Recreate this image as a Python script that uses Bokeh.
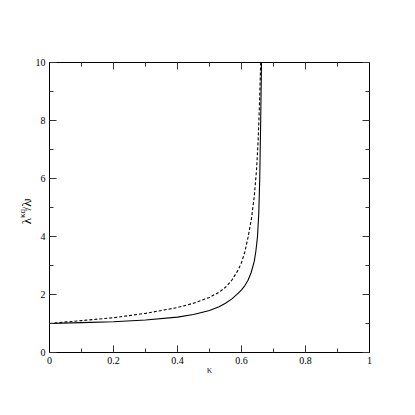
import math
from bokeh.plotting import figure
from bokeh.layouts import row
from bokeh.models import (Range1d, LinearAxis, FixedTicker, CustomJSTickFormatter)
from bokeh.core.properties import value
from bokeh.embed import file_html
from bokeh.resources import INLINE

# data
kappa_solid = [0.0, 0.1, 0.2, 0.3, 0.4, 0.45, 0.5, 0.53, 0.55, 0.57, 0.59, 0.6, 0.61, 0.62, 0.63,
               0.64, 0.645, 0.65, 0.654, 0.657, 0.66, 0.6625]
lam_solid = [1.0, 1.03, 1.06, 1.12, 1.22, 1.31, 1.45, 1.58, 1.70, 1.85, 2.05, 2.16, 2.3, 2.48, 2.75,
             3.15, 3.5, 4.0, 4.8, 6.0, 8.0, 10.0]

kappa_dash = [0.0, 0.1, 0.2, 0.3, 0.4, 0.45, 0.5, 0.53, 0.55, 0.57, 0.59, 0.6, 0.61, 0.62, 0.631,
              0.64, 0.647, 0.652, 0.656, 0.66]
lam_dash = [1.0, 1.1, 1.2, 1.35, 1.55, 1.7, 1.9, 2.08, 2.25, 2.5, 2.85, 3.1, 3.45, 3.95, 4.6,
            5.4, 6.3, 7.3, 8.5, 10.0]

x_ticks = [0, 0.2, 0.4, 0.6, 0.8, 1.0]
x_minor = [0.1, 0.3, 0.5, 0.7, 0.9]
y_ticks = [0, 2, 4, 6, 8, 10]
y_minor = [1, 3, 5, 7, 9]

# y-axis label pieces: text, font size
ylabel_parts = ["λ", "κq", "/λ", "J"]
ylabel_sizes = [13, 9, 13, 9]

FONT = "Liberation Serif"
H = 398
LW = 32

p = figure(width=H - LW, height=H, output_backend="svg", toolbar_location=None,
           x_range=Range1d(0, 1), y_range=Range1d(0, 10),
           x_axis_location=None, y_axis_location=None,
           min_border_left=48 - LW, min_border_right=29, min_border_top=62, min_border_bottom=46)
p.xgrid.visible = False
p.ygrid.visible = False
p.outline_line_color = "black"
p.background_fill_color = "white"
p.border_fill_color = "white"

fmt = CustomJSTickFormatter(code="return String(Math.round(tick*10)/10);")
blank = CustomJSTickFormatter(code="return '';")

def style(ax, labels=True):
    ax.axis_line_color = "black"
    ax.major_tick_line_color = "#333333"
    ax.minor_tick_line_color = "#333333"
    ax.major_tick_in = 7
    ax.major_tick_out = 0
    ax.minor_tick_in = 4
    ax.minor_tick_out = 0
    ax.major_label_text_font = FONT
    ax.major_label_text_font_size = "10px"
    ax.major_label_text_color = "black"
    ax.major_label_standoff = 4
    ax.formatter = fmt if labels else blank

xb = LinearAxis(ticker=FixedTicker(ticks=x_ticks, minor_ticks=x_minor))
style(xb)
xb.axis_label = "κ"
xb.axis_label_text_font = FONT
xb.axis_label_text_font_style = "normal"
xb.axis_label_text_font_size = "11px"
xb.axis_label_standoff = -4
p.add_layout(xb, "below")

xt = LinearAxis(ticker=FixedTicker(ticks=x_ticks, minor_ticks=x_minor))
style(xt, labels=False)
p.add_layout(xt, "above")

yl = LinearAxis(ticker=FixedTicker(ticks=y_ticks, minor_ticks=y_minor))
style(yl)
p.add_layout(yl, "left")

yr = LinearAxis(ticker=FixedTicker(ticks=y_ticks, minor_ticks=y_minor))
style(yr, labels=False)
p.add_layout(yr, "right")

p.line(kappa_solid, lam_solid, line_color="black", line_width=1.1)
p.line(kappa_dash, lam_dash, line_color="black", line_width=1.1, line_dash="3 2")

# side panel carrying the rotated y-axis label (pixel coordinates)
lab = figure(width=LW, height=H, output_backend="svg", toolbar_location=None,
             x_range=Range1d(0, LW), y_range=Range1d(0, H),
             x_axis_location=None, y_axis_location=None,
             min_border_left=0, min_border_right=0, min_border_top=0, min_border_bottom=0)
lab.xgrid.visible = False
lab.ygrid.visible = False
lab.outline_line_color = None
lab.background_fill_color = "white"
lab.border_fill_color = "white"

xs = [25.5, 21.5, 25.5, 27.5]
ys = [H - 222, H - 213.5, H - 203, H - 191.5]
for t, fs, x, y in zip(ylabel_parts, ylabel_sizes, xs, ys):
    lab.text(x=[x], y=[y], text=[t], angle=math.pi / 2, text_font=value(FONT),
             text_font_size=f"{fs}px", text_color="black",
             text_align="left", text_baseline="middle")

open("out.html", "w").write(file_html(row(lab, p), INLINE))
